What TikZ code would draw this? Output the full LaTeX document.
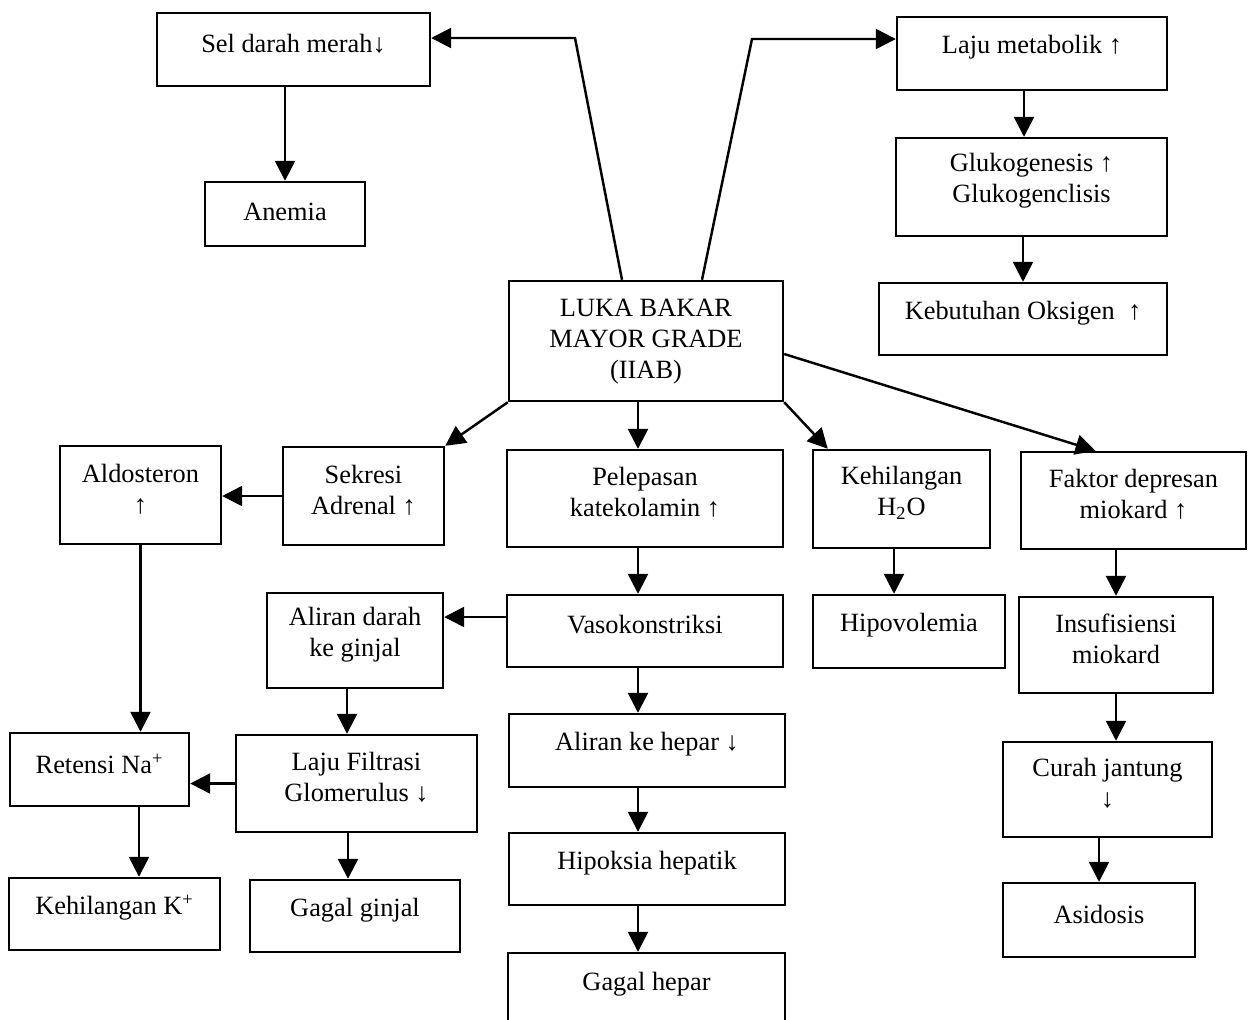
\documentclass[tikz,border=0pt]{standalone}
\usepackage{fontspec}
\setmainfont{Liberation Serif}
\usetikzlibrary{arrows.meta}

\begin{document}
\begin{tikzpicture}[x=0.02cm, y=-0.02cm,
		box/.style={draw, line width=1.4pt, inner sep=0pt},
		sz/.style 2 args={minimum width=#1cm, minimum height=#2cm},
		txt/.style={align=center, font=\fontsize{15}{17.6}\selectfont, yshift=0.12cm},
		arr/.style={line width=1.4pt, -{Triangle[length=0.4cm, width=0.4cm]}}]
	\useasboundingbox (0,0) rectangle (1251,1019);

	% atas
	\node[box, sz={5.46}{1.46}, label={[txt]center:Sel darah merah↓}] (sel) at (293.5,49.5) {};
	\node[box, sz={3.2}{1.28}, label={[txt, yshift=-0.08cm]center:Anemia}] (anemia) at (285,214) {};
	\node[box, sz={5.4}{1.46}, label={[txt]center:Laju metabolik ↑}] (laju) at (1032,53.5) {};
	\node[box, sz={5.42}{1.96}, label={[txt]center:Glukogenesis ↑\\Glukogenclisis}] (gluko) at (1031.5,187) {};
	\node[box, sz={5.76}{1.44}, label={[txt]center:Kebutuhan Oksigen\ \ ↑}] (kebut) at (1023,319) {};
	\node[box, sz={5.48}{2.4}, label={[txt, yshift=-0.13cm]center:LUKA BAKAR\\MAYOR GRADE\\(IIAB)}] (luka) at (646,341) {};

	% baris kedua
	\node[box, sz={3.22}{1.96}, label={[txt]center:Aldosteron\\↑}] (aldo) at (140.5,495) {};
	\node[box, sz={3.22}{1.96}, label={[txt]center:Sekresi\\Adrenal ↑}] (sekresi) at (363.5,496) {};
	\node[box, sz={5.52}{1.94}, label={[txt]center:Pelepasan\\katekolamin ↑}] (pelepasan) at (645,498.5) {};
	\node[box, sz={3.54}{1.96}, label={[txt]center:Kehilangan\\H\textsubscript{2}O}] (kehil) at (901.5,499) {};
	\node[box, sz={4.5}{1.94}, label={[txt]center:Faktor depresan\\miokard ↑}] (faktor) at (1133.5,500.5) {};

	% baris ketiga
	\node[box, sz={3.52}{1.9}, label={[txt]center:Aliran darah\\ke ginjal}] (aliran) at (355,640.5) {};
	\node[box, sz={5.52}{1.44}, label={[txt]center:Vasokonstriksi}] (vaso) at (645,631) {};
	\node[box, sz={3.84}{1.46}, label={[txt]center:Hipovolemia}] (hipo) at (909,631.5) {};
	\node[box, sz={3.88}{1.92}, label={[txt]center:Insufisiensi\\miokard}] (insuf) at (1116,645) {};

	% bawah
	\node[box, sz={3.58}{1.46}, label={[txt]center:Retensi Na\textsuperscript{+}}] (retensi) at (99.5,769.5) {};
	\node[box, sz={4.82}{1.94}, label={[txt]center:Laju Filtrasi\\Glomerulus ↓}] (lfg) at (356.5,783.5) {};
	\node[box, sz={5.52}{1.46}, label={[txt]center:Aliran ke hepar ↓}] (hepar) at (647,750.5) {};
	\node[box, sz={4.18}{1.9}, label={[txt]center:Curah jantung\\↓}] (curah) at (1107.5,789.5) {};
	\node[box, sz={4.22}{1.44}, label={[txt]center:Kehilangan K\textsuperscript{+}}] (kplus) at (114.5,914) {};
	\node[box, sz={4.2}{1.44}, label={[txt]center:Gagal ginjal}] (ginjal) at (355,916) {};
	\node[box, sz={5.52}{1.44}, label={[txt]center:Hipoksia hepatik}] (hipoksia) at (647,869) {};
	\node[box, sz={5.54}{1.48}, label={[txt]center:Gagal hepar}] (gagalhep) at (646.5,990) {};
	\node[box, sz={3.84}{1.48}, label={[txt]center:Asidosis}] (asidosis) at (1099,920) {};

	% panah
	\coordinate (kl) at (575,38);
	\coordinate (kr) at (752,39);
	\draw[arr] ([xshift=-0.48cm]luka.north) -- (kl) -- (kl -| sel.east);
	\draw[arr] ([xshift=1.12cm]luka.north) -- (kr) -- (kr -| laju.west);
	\draw[arr] (anemia.north |- sel.south) -- (anemia.north);
	\draw[arr] (1024,0 |- laju.south) -- (1024,0 |- gluko.north);
	\draw[arr] (kebut.north |- gluko.south) -- (kebut.north);

	\draw[arr] (luka.south west) -- (sekresi.north east);
	\draw[arr] (638,0 |- luka.south) -- (638,0 |- pelepasan.north);
	\draw[arr] (luka.south east) -- ([xshift=0.32cm]kehil.north west);
	\draw[arr] ([yshift=-0.26cm]luka.east) -- ([xshift=-0.76cm]faktor.north);

	\draw[arr] (sekresi.west) -- (sekresi.west -| aldo.east);
	\draw[arr] (aldo.south) -- (aldo.south |- retensi.north);
	\draw[arr] (vaso.west |- 0,617) -- (aliran.east |- 0,617);
	\draw[arr] (347,0 |- aliran.south) -- (347,0 |- lfg.north);
	\draw[arr] (lfg.west) -- (lfg.west -| retensi.east);
	\draw[arr] (139,0 |- retensi.south) -- (139,0 |- kplus.north);
	\draw[arr] (348,0 |- lfg.south) -- (348,0 |- ginjal.north);

	\foreach \a/\b in {pelepasan/vaso, vaso/hepar, hepar/hipoksia, hipoksia/gagalhep}
		\draw[arr] (638,0 |- \a.south) -- (638,0 |- \b.north);

	\draw[arr] (894,0 |- kehil.south) -- (894,0 |- hipo.north);
	\draw[arr] (faktor.south -| insuf.north) -- (insuf.north);
	\draw[arr] (insuf.south) -- (insuf.south |- curah.north);
	\draw[arr] (asidosis.north |- curah.south) -- (asidosis.north);
\end{tikzpicture}
\end{document}
